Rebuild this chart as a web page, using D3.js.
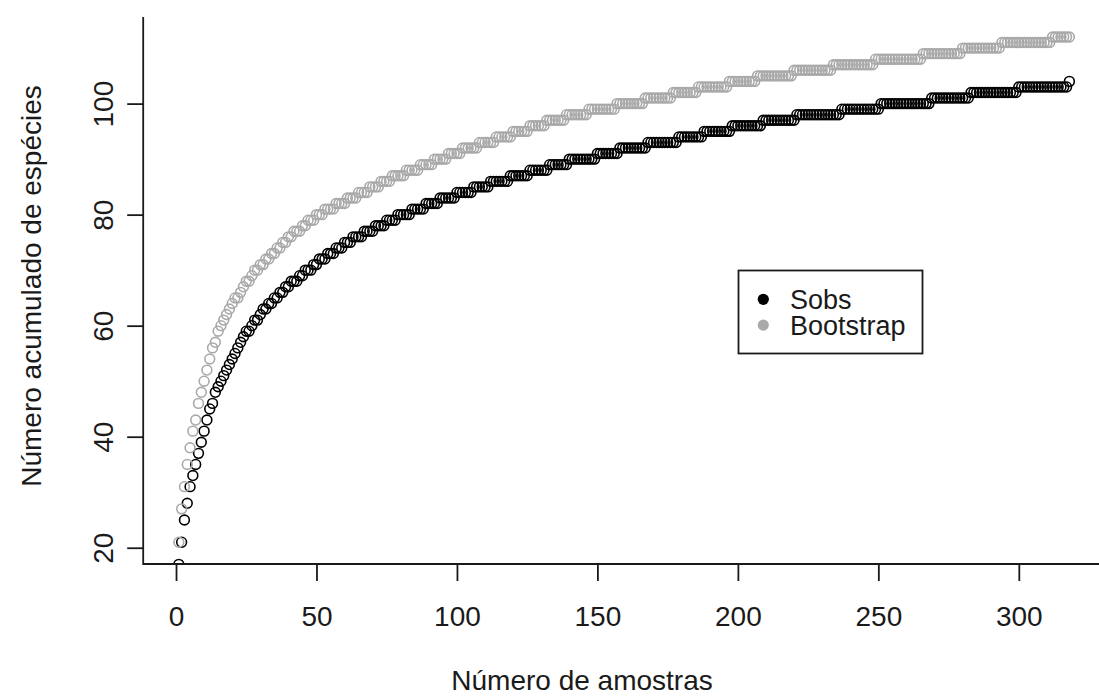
<!DOCTYPE html>
<html>
<head>
<meta charset="utf-8">
<script src="https://cdn.jsdelivr.net/npm/d3@7"></script>
<style>
  html, body { margin: 0; padding: 0; background: #ffffff; }
  svg { display: block; }
  text { font-family: "Liberation Sans", Arial, "DejaVu Sans", sans-serif; fill: #1a1a1a; }
</style>
</head>
<body>
<svg id="chart" width="1099" height="697"></svg>
<script>
// ---- data ----
const sobs = [
  17,21,25,28,31,33,35,37,39,41,
  43,45,46,48,49,50,51,52,53,54,
  55,56,57,58,59,59,60,61,61,62,
  63,63,64,64,65,65,66,66,67,67,
  68,68,68,69,69,70,70,70,71,71,
  72,72,72,73,73,73,74,74,74,75,
  75,75,76,76,76,76,77,77,77,77,
  78,78,78,78,79,79,79,79,80,80,
  80,80,80,81,81,81,81,81,82,82,
  82,82,82,83,83,83,83,83,83,84,
  84,84,84,84,84,85,85,85,85,85,
  85,86,86,86,86,86,86,86,87,87,
  87,87,87,87,87,88,88,88,88,88,
  88,88,89,89,89,89,89,89,89,90,
  90,90,90,90,90,90,90,90,90,91,
  91,91,91,91,91,91,91,92,92,92,
  92,92,92,92,92,92,92,93,93,93,
  93,93,93,93,93,93,93,93,94,94,
  94,94,94,94,94,94,94,95,95,95,
  95,95,95,95,95,95,95,96,96,96,
  96,96,96,96,96,96,96,96,97,97,
  97,97,97,97,97,97,97,97,97,97,
  98,98,98,98,98,98,98,98,98,98,
  98,98,98,98,98,98,99,99,99,99,
  99,99,99,99,99,99,99,99,99,99,
  100,100,100,100,100,100,100,100,100,100,
  100,100,100,100,100,100,100,100,101,101,
  101,101,101,101,101,101,101,101,101,101,
  101,101,102,102,102,102,102,102,102,102,
  102,102,102,102,102,102,102,102,102,103,
  103,103,103,103,103,103,103,103,103,103,
  103,103,103,103,103,103,103,104
];
const bootstrap = [
  21,27,31,35,38,41,43,46,48,50,
  52,54,56,57,59,60,61,62,63,64,
  65,65,66,67,68,68,69,70,70,71,
  71,72,72,73,73,74,74,75,75,76,
  76,77,77,77,78,78,79,79,79,80,
  80,80,81,81,81,81,82,82,82,82,
  83,83,83,83,84,84,84,84,85,85,
  85,85,86,86,86,86,87,87,87,87,
  87,88,88,88,88,88,89,89,89,89,
  89,90,90,90,90,90,91,91,91,91,
  91,92,92,92,92,92,92,93,93,93,
  93,93,93,94,94,94,94,94,94,95,
  95,95,95,95,95,96,96,96,96,96,
  96,97,97,97,97,97,97,97,98,98,
  98,98,98,98,98,98,99,99,99,99,
  99,99,99,99,99,99,100,100,100,100,
  100,100,100,100,100,100,101,101,101,101,
  101,101,101,101,101,101,102,102,102,102,
  102,102,102,102,102,103,103,103,103,103,
  103,103,103,103,103,103,104,104,104,104,
  104,104,104,104,104,104,105,105,105,105,
  105,105,105,105,105,105,105,105,105,106,
  106,106,106,106,106,106,106,106,106,106,
  106,106,106,107,107,107,107,107,107,107,
  107,107,107,107,107,107,107,107,108,108,
  108,108,108,108,108,108,108,108,108,108,
  108,108,108,108,108,109,109,109,109,109,
  109,109,109,109,109,109,109,109,109,110,
  110,110,110,110,110,110,110,110,110,110,
  110,110,110,111,111,111,111,111,111,111,
  111,111,111,111,111,111,111,111,111,111,
  111,112,112,112,112,112,112,112
];
const xTicks = [0, 50, 100, 150, 200, 250, 300];
const yTicks = [20, 40, 60, 80, 100];
const seriesNames = ["Sobs", "Bootstrap"];
const seriesColors = ["#000000", "#a9a9a9"];
const xTitle = "Número de amostras";
const yTitle = "Número acumulado de espécies";

// ---- layout ----
const plot = { left: 143.2, right: 1105, top: 17, bottom: 564 };
const svg = d3.select("#chart");

const n = sobs.length;
const pad = (n - 1) * 0.04;
const x = d3.scaleLinear().domain([1 - pad, n + pad]).range([plot.left, plot.right]);
const y = d3.scaleLinear().domain([17.07, 115.6]).range([plot.bottom, plot.top]);

svg.append("defs").append("clipPath").attr("id", "plotClip")
  .append("rect")
  .attr("x", plot.left).attr("y", plot.top)
  .attr("width", plot.right - plot.left).attr("height", plot.bottom - plot.top);

// ---- points ----
const pts = svg.append("g").attr("clip-path", "url(#plotClip)");
const series = [sobs, bootstrap];
series.forEach((vals, si) => {
  pts.append("g").selectAll("circle")
    .data(vals)
    .join("circle")
    .attr("cx", (d, i) => x(i + 1))
    .attr("cy", d => y(d))
    .attr("r", 4.9)
    .attr("fill", "none")
    .attr("stroke", seriesColors[si])
    .attr("stroke-width", 1.6);
});

// ---- axes ----
const xAxis = svg.append("g")
  .attr("transform", `translate(0,${plot.bottom})`)
  .call(d3.axisBottom(x).tickValues(xTicks).tickSize(17).tickFormat(d3.format("d")));
xAxis.select(".domain").remove();
xAxis.selectAll(".tick line").attr("stroke", "#1a1a1a").attr("stroke-width", 1.8);
xAxis.selectAll(".tick text")
  .attr("y", 62).attr("dy", null)
  .style("font-size", "28px")
  .style("font-family", "'Liberation Sans', Arial, sans-serif")
  .attr("fill", "#1a1a1a");

const yAxis = svg.append("g")
  .attr("transform", `translate(${plot.left},0)`)
  .call(d3.axisLeft(y).tickValues(yTicks).tickSize(16).tickFormat(d3.format("d")));
yAxis.select(".domain").remove();
yAxis.selectAll(".tick line").attr("stroke", "#1a1a1a").attr("stroke-width", 1.8);
yAxis.selectAll(".tick text")
  .attr("transform", "rotate(-90)")
  .attr("x", 0).attr("y", -30).attr("dy", null)
  .attr("text-anchor", "middle")
  .style("font-size", "28px")
  .style("font-family", "'Liberation Sans', Arial, sans-serif")
  .attr("fill", "#1a1a1a");

// L-shaped box
svg.append("path")
  .attr("d", `M${plot.left},${plot.top}V${plot.bottom}H${plot.right}`)
  .attr("fill", "none").attr("stroke", "#1a1a1a").attr("stroke-width", 1.8);

// ---- titles ----
svg.append("text")
  .attr("x", 582).attr("y", 690)
  .attr("text-anchor", "middle")
  .style("font-size", "28px")
  .text(xTitle);

svg.append("text")
  .attr("transform", "translate(41,286) rotate(-90)")
  .attr("text-anchor", "middle")
  .style("font-size", "28px")
  .text(yTitle);

// ---- legend ----
const lg = svg.append("g");
lg.append("rect")
  .attr("x", 738.5).attr("y", 270.5).attr("width", 184).attr("height", 83)
  .attr("fill", "#ffffff").attr("stroke", "#1a1a1a").attr("stroke-width", 1.8);
seriesNames.forEach((name, i) => {
  const cy = 299.3 + i * 25.8;
  lg.append("circle").attr("cx", 763.3).attr("cy", cy).attr("r", 5.6)
    .attr("fill", seriesColors[i]);
  lg.append("text").attr("x", 790).attr("y", cy + 10)
    .style("font-size", "27px").text(name);
});
</script>
</body>
</html>
